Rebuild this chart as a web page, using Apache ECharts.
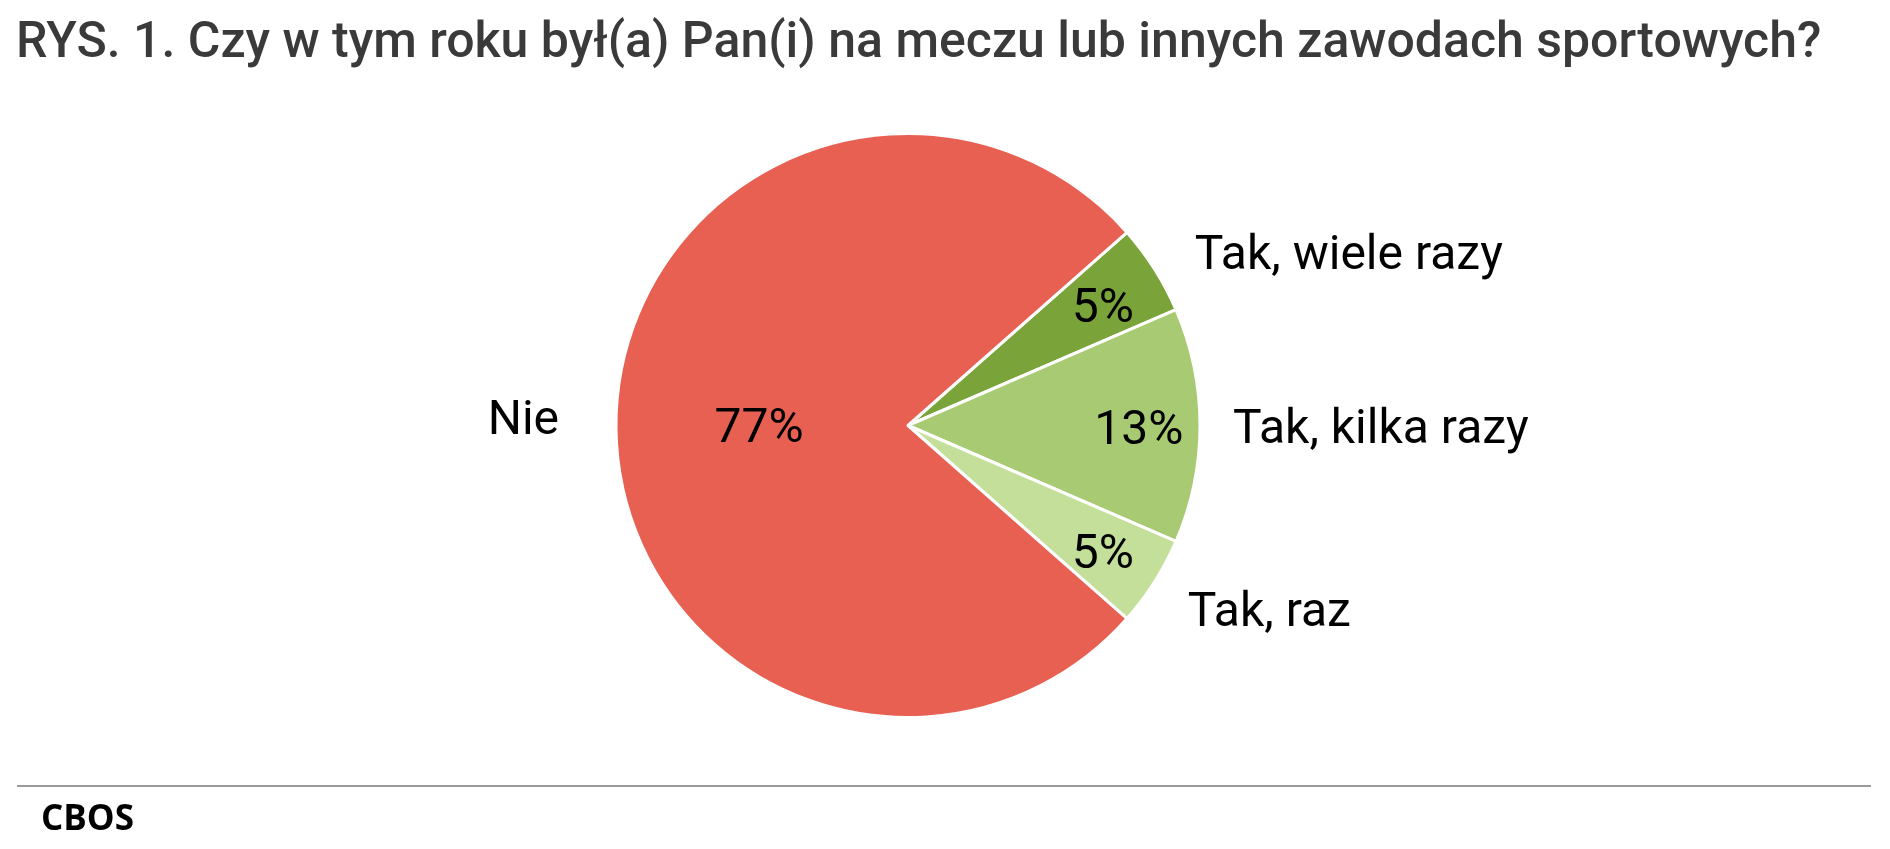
<!DOCTYPE html>
<html>
<head>
<meta charset="utf-8">
<script src="https://cdn.jsdelivr.net/npm/echarts@6/dist/echarts.min.js"></script>
<style>
html,body{margin:0;padding:0;background:#fff;}
#chart{width:1890px;height:849px;}
</style>
</head>
<body>
<div id="chart"></div>
<script>
// ---- data ----
const categories = ['Tak, wiele razy', 'Tak, kilka razy', 'Tak, raz', 'Nie'];
const values = [5, 13, 5, 77];
const titleText = 'RYS. 1. Czy w tym roku był(a) Pan(i) na meczu lub innych zawodach sportowych?';
const sourceText = 'CBOS';

// ---- styling ----
const colors = ['#7AA33A', '#A7CA72', '#C4DF99', '#E86052'];
const CX = 908, CY = 425.5, R = 292;
const labelFont = 'Roboto';
const FS = 48;
// per-label fine offsets (dx, dy)
const nameShift = [[10, 4], [-2, 5], [3, 16], [-22, -4]];
const pctShift = [[0, 8], [0, 6], [0, 7], [0, 4]];

const chart = echarts.init(document.getElementById('chart'), null, {renderer: 'canvas'});

const mainData = categories.map((c, i) => ({
  name: c, value: values[i],
  itemStyle: {color: colors[i]},
  label: {show: i === 3}
}));
const ringData = categories.map((c, i) => ({
  name: c, value: values[i],
  label: {show: i !== 3}
}));
const nameData = categories.map((c, i) => ({name: c, value: values[i]}));

const pctLabel = {
  position: 'inside',
  formatter: p => p.value + '%',
  fontFamily: labelFont, fontSize: FS, color: '#000'
};
const pctLayout = p => ({dx: pctShift[p.dataIndex][0], dy: pctShift[p.dataIndex][1]});

chart.setOption({
  animation: false,
  title: [
    {text: titleText, left: 11, top: 14,
     textStyle: {fontFamily: 'Roboto', fontWeight: 500, fontSize: 50, color: '#3a3a3a'}},
    {text: sourceText, left: 36, top: 798,
     textStyle: {fontFamily: 'Open Sans', fontWeight: 'bold', fontSize: 35, color: '#000'}}
  ],
  graphic: [
    {type: 'line', shape: {x1: 17, y1: 786, x2: 1871, y2: 786},
     style: {stroke: '#999', lineWidth: 2}, silent: true}
  ],
  series: [
    {
      type: 'pie', center: [CX, CY], radius: [0, R],
      startAngle: 41.4, clockwise: true, avoidLabelOverlap: false,
      itemStyle: {borderColor: '#fff', borderWidth: 3},
      label: pctLabel, labelLine: {show: false}, labelLayout: pctLayout,
      emphasis: {disabled: true},
      data: mainData, silent: true
    },
    {
      type: 'pie', center: [CX, CY], radius: [R * 0.56, R],
      startAngle: 41.4, clockwise: true, avoidLabelOverlap: false,
      itemStyle: {color: 'rgba(0,0,0,0)', borderWidth: 0},
      label: pctLabel, labelLine: {show: false}, labelLayout: pctLayout,
      emphasis: {disabled: true},
      data: ringData, silent: true
    },
    {
      type: 'pie', center: [CX, CY], radius: [0, R],
      startAngle: 41.4, clockwise: true, avoidLabelOverlap: false,
      itemStyle: {color: 'rgba(0,0,0,0)', borderWidth: 0},
      label: {show: true, position: 'outside', formatter: '{b}',
              fontFamily: labelFont, fontSize: FS, color: '#000', distanceToLabelLine: 5},
      labelLine: {show: false, length: 30, length2: 0},
      labelLayout: p => ({dx: nameShift[p.dataIndex][0], dy: nameShift[p.dataIndex][1]}),
      emphasis: {disabled: true},
      data: nameData, silent: true
    }
  ]
});
</script>
</body>
</html>
